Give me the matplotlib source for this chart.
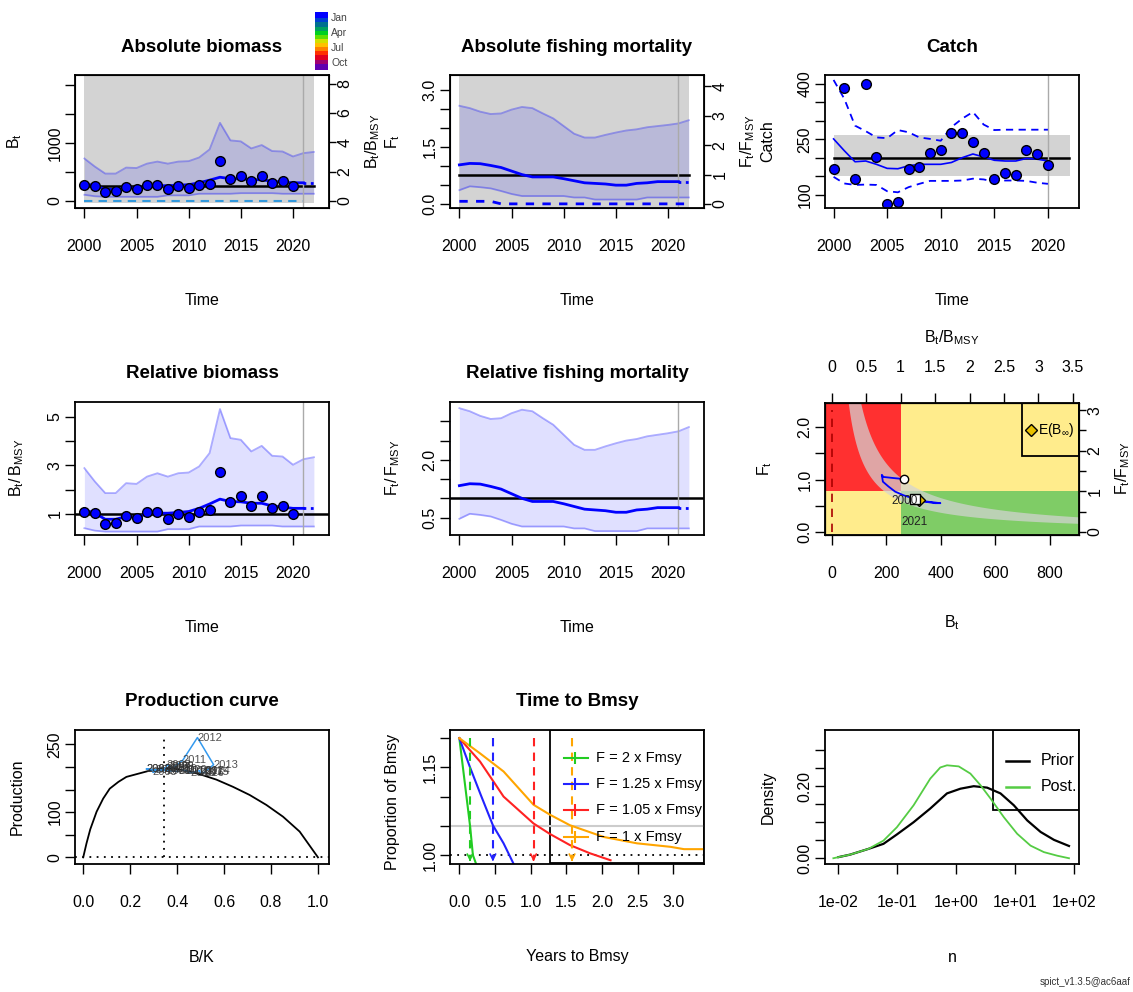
import matplotlib
matplotlib.use('Agg')
import matplotlib.pyplot as plt
import numpy as np
from matplotlib import font_manager
from matplotlib.patches import Rectangle
from matplotlib.colors import ListedColormap

names = {f.name for f in font_manager.fontManager.ttflist}
base = 'Liberation Sans Narrow' if 'Liberation Sans Narrow' in names else 'Liberation Sans'
plt.rcParams['font.family'] = [base, 'DejaVu Sans']
plt.rcParams['mathtext.fontset'] = 'custom'
plt.rcParams['mathtext.rm'] = base
plt.rcParams['mathtext.default'] = 'regular'

# ---------------- data ----------------
years_obs = list(range(2000, 2021))
years_est = list(range(2000, 2023))
index_rel = [1.10, 1.03, 0.59, 0.64, 0.92, 0.82, 1.10, 1.10, 0.79, 1.00, 0.89,
             1.06, 1.17, 2.71, 1.48, 1.72, 1.34, 1.72, 1.23, 1.34, 1.00]
b_rel_est = [1.17, 1.03, 0.78, 0.78, 0.89, 0.86, 1.00, 1.03, 1.03, 1.06, 1.10, 1.23,
             1.41, 1.61, 1.51, 1.50, 1.44, 1.44, 1.33, 1.28, 1.23, 1.23, 1.23]
b_rel_hi = [2.89, 2.34, 1.86, 1.86, 2.27, 2.24, 2.54, 2.68, 2.54, 2.68, 2.71, 2.96,
            3.51, 5.33, 4.13, 4.06, 3.58, 3.81, 3.40, 3.37, 3.03, 3.26, 3.34]
b_rel_lo = [0.41, 0.31, 0.27, 0.27, 0.27, 0.27, 0.27, 0.27, 0.37, 0.37, 0.37, 0.48,
            0.48, 0.48, 0.48, 0.52, 0.52, 0.52, 0.52, 0.48, 0.48, 0.48, 0.48]
f_rel_est = [1.33, 1.38, 1.37, 1.31, 1.24, 1.12, 1.00, 0.92, 0.92, 0.92, 0.86, 0.79,
             0.72, 0.70, 0.68, 0.64, 0.64, 0.70, 0.72, 0.76, 0.76, 0.76, 0.76]
f_rel_hi = [3.34, 3.26, 3.14, 3.06, 3.08, 3.21, 3.30, 3.26, 3.08, 2.91, 2.65, 2.39,
            2.26, 2.26, 2.35, 2.43, 2.50, 2.54, 2.61, 2.65, 2.69, 2.74, 2.85]
f_rel_lo = [0.47, 0.60, 0.57, 0.53, 0.44, 0.34, 0.27, 0.27, 0.27, 0.27, 0.27, 0.22,
            0.22, 0.15, 0.15, 0.15, 0.15, 0.15, 0.22, 0.22, 0.22, 0.22, 0.22]
f_season = [0.07, 0.07, 0.07, 0.07, 0.003, 0.003, 0.003, 0.003, 0.003, 0.003, 0.003, 0.003,
            0.003, 0.003, 0.003, 0.003, 0.003, 0.003, 0.003, 0.003, 0.003, 0.003, 0.003]
bmsy = 253.0
fmsy = 0.775

catch_obs = [170, 388, 143, 400, 203, 74, 80, 168, 175, 214, 222, 266, 267, 243,
             214, 143, 159, 153, 222, 211, 180]
catch_est = [251, 219, 189, 191, 182, 171, 170, 178, 182, 182, 182, 187, 200, 210,
             202, 193, 191, 191, 198, 196, 191]
catch_hi = [411, 360, 287, 272, 255, 253, 275, 269, 255, 251, 246, 283, 306, 324,
            290, 275, 276, 276, 276, 276, 276]
catch_lo = [148, 130, 126, 127, 126, 109, 106, 120, 129, 137, 137, 137, 138, 143,
            141, 135, 138, 138, 137, 132, 129]
msy, msy_lo, msy_hi = 198, 150, 262

kobe_b = [264, 225, 190, 184, 188, 208, 233, 264, 300, 350, 399, 380, 340, 307]
kobe_f = [1.01, 1.03, 1.05, 1.09, 0.96, 0.87, 0.77, 0.70, 0.64, 0.58, 0.55, 0.55, 0.58, 0.625]
binf_b, binf_f = 322, 0.61

prod_bk = [0.0, 0.014, 0.03, 0.057, 0.085, 0.113, 0.15, 0.184, 0.227, 0.27, 0.30, 0.345,
           0.39, 0.426, 0.496, 0.567, 0.638, 0.709, 0.78, 0.851, 0.922, 1.0]
prod_p = [0, 31, 62, 101, 130, 152, 167, 178, 184, 190, 194, 197, 196, 193, 184, 172,
          156, 138, 116, 90, 57, 0]
bmsy_k = 0.345
prod_traj = [190, 192, 195, 196, 193, 188, 196, 200, 205, 203, 196, 215, 265, 205, 190,
             188, 186, 192, 187, 190, 193]

t2_x = [0, 0.08, 0.15, 0.19, 0.234]
t2_y = [1.2, 1.12, 1.05, 1.0, 0.985]
t125_x = [0, 0.15, 0.3, 0.47, 0.62, 0.76]
t125_y = [1.2, 1.15, 1.103, 1.051, 1.02, 0.985]
t105_x = [0, 0.29, 0.62, 1.04, 1.27, 1.55, 1.83, 2.12]
t105_y = [1.2, 1.16, 1.10, 1.054, 1.036, 1.017, 1.003, 0.991]
t1_x = [0, 0.29, 0.62, 1.04, 1.27, 1.55, 2.02, 2.49, 2.96, 3.15, 3.43]
t1_y = [1.2, 1.174, 1.143, 1.086, 1.069, 1.051, 1.031, 1.02, 1.014, 1.01, 1.01]
t_years = [0.15, 0.47, 1.04, 1.58]
t_labels = ['F = 2 x Fmsy', 'F = 1.25 x Fmsy', 'F = 1.05 x Fmsy', 'F = 1 x Fmsy']
t_colors = ['#22cc22', '#2222ff', '#ff2222', '#ffa500']

prior_logn = [-2, -1.801, -1.489, -1.234, -1.007, -0.723, -0.440, -0.156, 0.071, 0.298,
              0.525, 0.752, 0.979, 1.206, 1.433, 1.660, 1.915]
prior_d = [0.003, 0.010, 0.026, 0.040, 0.066, 0.100, 0.138, 0.180, 0.193, 0.200, 0.196,
           0.180, 0.147, 0.105, 0.073, 0.051, 0.034]
post_logn = [-2.085, -1.801, -1.489, -1.234, -1.007, -0.723, -0.440, -0.270, -0.156, 0.043,
             0.241, 0.411, 0.582, 0.809, 1.035, 1.262, 1.489, 1.716, 1.915]
post_d = [0.0, 0.010, 0.026, 0.049, 0.086, 0.147, 0.221, 0.252, 0.258, 0.255, 0.235, 0.203,
          0.166, 0.114, 0.068, 0.035, 0.017, 0.007, 0.0]

season_colors = ['#0000ff', '#0040d0', '#007090', '#00a060', '#00d020', '#60e000', '#d0e000',
                 '#ffc000', '#ff8000', '#ff3000', '#e00020', '#a00070', '#6000b0']
season_labels = ['Jan', 'Apr', 'Jul', 'Oct']

# ---------------- layout ----------------
W, H = 1133, 992
fig = plt.figure(figsize=(W / 100, H / 100), dpi=100)
FS = 11.5
TFS = 13.5
CI_FILL = dict(color=(0, 0, 1), alpha=0.12, lw=0)
CI_LINE = dict(color=(0, 0, 1), alpha=0.32, lw=1.3)
GREY = '#d3d3d3'


def add_ax(xp, yp, wp=254, hp=133):
    return fig.add_axes([xp / W, 1 - (yp + hp) / H, wp / W, hp / H])


def ftext(xp, yp, s, **kw):
    kw.setdefault('fontsize', FS)
    fig.text(xp / W, 1 - yp / H, s, ha='center', va='center', **kw)


def style(ax, yticks, ylabels, xticks=None, xlabels=None):
    if xticks is not None:
        ax.set_xticks(xticks)
        ax.set_xticklabels(xlabels if xlabels is not None else [str(t) for t in xticks])
    ax.set_yticks(yticks)
    ax.set_yticklabels(ylabels, rotation=90, va='center')
    ax.tick_params(axis='both', direction='out', length=7, width=1, labelsize=FS)
    ax.tick_params(axis='x', pad=15)
    ax.tick_params(axis='y', pad=2)
    ax.minorticks_off()
    for s in ax.spines.values():
        s.set_linewidth(1.3)


def right_axis(ax, lo, hi, ticks, labels):
    a2 = ax.twinx()
    a2.set_ylim(lo, hi)
    a2.set_yticks(ticks)
    a2.set_yticklabels(labels, rotation=90, va='center')
    a2.tick_params(axis='y', direction='out', length=5, width=1, labelsize=FS, pad=1)
    a2.minorticks_off()
    return a2


cx = [75, 450, 825]
ry = [75, 402, 730]
tx = [2000, 2005, 2010, 2015, 2020]
yr = np.array(years_est)
yo = np.array(years_obs)
xl_time = (1999.1, 2023.45)

# ---- 1 Absolute biomass
ax = add_ax(cx[0], ry[0])
ax.fill_between([2000, 2022.05], -40, 5000, color=GREY, lw=0)
b_abs_lo = np.array(b_rel_lo) * bmsy
b_abs_hi = np.array(b_rel_hi) * bmsy
ax.fill_between(yr, b_abs_lo, b_abs_hi, **CI_FILL)
ax.plot(yr, b_abs_lo, **CI_LINE)
ax.plot(yr, b_abs_hi, **CI_LINE)
ax.plot([2000, 2022], [bmsy, bmsy], color='black', lw=1.8)
ax.plot([2000, 2021], [0, 0], color='#3399dd', lw=1.5, ls=(0, (4, 3)))
ax.axvline(2021, color='#aaaaaa', lw=1)
ax.plot(yr[:22], np.array(b_rel_est[:22]) * bmsy, color='blue', lw=2)
ax.plot(yr[21:], np.array(b_rel_est[21:]) * bmsy, color='blue', lw=2, ls=':')
ax.plot(yo, np.array(index_rel) * bmsy, 'o', ms=7, mfc='blue', mec='black', mew=1)
ax.set_xlim(*xl_time)
ax.set_ylim(-125, 2176)
style(ax, [0, 500, 1000, 1500, 2000], ['0', '', '1000', '', ''], tx)
right_axis(ax, -125 / bmsy, 2176 / bmsy, [0, 2, 4, 6, 8], ['0', '2', '4', '6', '8'])

ftext(202, 47, 'Absolute biomass', fontsize=TFS, fontweight='bold')
ftext(202, 300, 'Time')
ftext(15, 141, r'$B_t$', rotation=90)
ftext(373, 141, r'$B_t/B_{MSY}$', rotation=90)

# season colour bar
cax = fig.add_axes([315 / W, 1 - 70 / H, 13 / W, 58 / H])
cax.imshow(np.arange(len(season_colors)).reshape(-1, 1), aspect='auto',
           cmap=ListedColormap(season_colors), interpolation='bilinear')
cax.axis('off')
for i, lab in enumerate(season_labels):
    fig.text(331 / W, 1 - (18 + 15 * i) / H, lab, fontsize=7.5, color='#444444', va='center')

# ---- 2 Absolute fishing mortality
ax = add_ax(cx[1], ry[0])
ax.fill_between([2000, 2022.05], -1, 10, color=GREY, lw=0)
f_abs_lo = np.array(f_rel_lo) * fmsy
f_abs_hi = np.array(f_rel_hi) * fmsy
ax.fill_between(yr, f_abs_lo, f_abs_hi, **CI_FILL)
ax.plot(yr, f_abs_lo, **CI_LINE)
ax.plot(yr, f_abs_hi, **CI_LINE)
ax.plot([2000, 2022], [fmsy, fmsy], color='black', lw=1.8)
ax.axvline(2021, color='#aaaaaa', lw=1)
ax.plot(yr, f_season, color='blue', lw=2, ls=(0, (3, 3)))
ax.plot(yr[:22], np.array(f_rel_est[:22]) * fmsy, color='blue', lw=2)
ax.plot(yr[21:], np.array(f_rel_est[21:]) * fmsy, color='blue', lw=2, ls=':')
ax.set_xlim(*xl_time)
ax.set_ylim(-0.106, 3.40)
style(ax, [0, 0.5, 1.0, 1.5, 2.0, 2.5, 3.0], ['0.0', '', '', '1.5', '', '', '3.0'], tx)
right_axis(ax, -0.106 / fmsy, 3.40 / fmsy, [0, 1, 2, 3, 4], ['0', '1', '2', '3', '4'])
ftext(577, 47, 'Absolute fishing mortality', fontsize=TFS, fontweight='bold')
ftext(577, 300, 'Time')
ftext(393, 141, r'$F_t$', rotation=90)
ftext(748, 141, r'$F_t/F_{MSY}$', rotation=90)

# ---- 3 Catch
ax = add_ax(cx[2], ry[0])
ax.fill_between([2000, 2022.05], msy_lo, msy_hi, color=GREY, lw=0)
ax.plot([2000, 2022], [msy, msy], color='black', lw=1.8)
ax.axvline(2020, color='#aaaaaa', lw=1)
ax.plot(yo, catch_est, color='blue', lw=1.2)
ax.plot(yo, catch_hi, color='blue', lw=1.3, ls=(0, (4, 3)))
ax.plot(yo, catch_lo, color='blue', lw=1.3, ls=(0, (4, 3)))
ax.plot(yo, catch_obs, 'o', ms=7, mfc='blue', mec='black', mew=1)
ax.set_xlim(1999.2, 2022.9)
ax.set_ylim(63.4, 424.5)
style(ax, [100, 150, 200, 250, 300, 350, 400], ['100', '', '', '250', '', '', '400'], tx)
ftext(952, 47, 'Catch', fontsize=TFS, fontweight='bold')
ftext(952, 300, 'Time')
ftext(768, 141, 'Catch', rotation=90)

# ---- 4 Relative biomass
ax = add_ax(cx[0], ry[1])
ax.fill_between(yr, b_rel_lo, b_rel_hi, **CI_FILL)
ax.plot(yr, b_rel_lo, **CI_LINE)
ax.plot(yr, b_rel_hi, **CI_LINE)
ax.axhline(1, color='black', lw=1.8)
ax.axvline(2021, color='#aaaaaa', lw=1)
ax.plot(yr[:22], b_rel_est[:22], color='blue', lw=2)
ax.plot(yr[21:], b_rel_est[21:], color='blue', lw=2, ls=':')
ax.plot(yo, index_rel, 'o', ms=7, mfc='blue', mec='black', mew=1)
ax.set_xlim(*xl_time)
ax.set_ylim(0.13, 5.62)
style(ax, [1, 2, 3, 4, 5], ['1', '', '3', '', '5'], tx)
ftext(202, 373, 'Relative biomass', fontsize=TFS, fontweight='bold')
ftext(202, 628, 'Time')
ftext(17, 468, r'$B_t/\,B_{MSY}$', rotation=90)

# ---- 5 Relative fishing mortality
ax = add_ax(cx[1], ry[1])
ax.fill_between(yr, f_rel_lo, f_rel_hi, **CI_FILL)
ax.plot(yr, f_rel_lo, **CI_LINE)
ax.plot(yr, f_rel_hi, **CI_LINE)
ax.axhline(1, color='black', lw=1.8)
ax.axvline(2021, color='#aaaaaa', lw=1)
ax.plot(yr[:22], f_rel_est[:22], color='blue', lw=2)
ax.plot(yr[21:], f_rel_est[21:], color='blue', lw=2, ls=':')
ax.set_xlim(*xl_time)
ax.set_ylim(0.05, 3.50)
style(ax, [0.5, 1.0, 1.5, 2.0, 2.5, 3.0], ['0.5', '', '', '2.0', '', ''], tx)
ftext(577, 373, 'Relative fishing mortality', fontsize=TFS, fontweight='bold')
ftext(577, 628, 'Time')
ftext(393, 468, r'$F_t/\,F_{MSY}$', rotation=90)

# ---- 6 Kobe plot
ax = add_ax(cx[2], ry[1] + 1, hp=132)
xlo, xhi, ylo, yhi = -24.5, 908, -0.057, 2.46
ax.add_patch(Rectangle((xlo, fmsy), bmsy - xlo, 5, color='#ff3030', lw=0))
ax.add_patch(Rectangle((bmsy, fmsy), 2000, 5, color='#ffec8c', lw=0))
ax.add_patch(Rectangle((xlo, ylo), bmsy - xlo, fmsy - ylo, color='#ffec8c', lw=0))
ax.add_patch(Rectangle((bmsy, ylo), 2000, fmsy - ylo, color='#7fcc66', lw=0))
bgrid = np.linspace(40, 950, 300)
ax.fill_between(bgrid, msy_lo / bgrid, msy_hi / bgrid, color=GREY, alpha=0.72, lw=0)
ax.plot([0, 0], [0, 2.33], color='#aa0000', lw=1.2, ls=(0, (5, 4)))
ax.plot(kobe_b, kobe_f, color='blue', lw=1.3)
ax.plot(kobe_b[0], kobe_f[0], 'o', ms=6, mfc='white', mec='black', mew=1)
ax.plot(binf_b, binf_f, 'D', ms=6, mfc='#e8c000', mec='black', mew=1)
ax.plot(kobe_b[-1], kobe_f[-1], 's', ms=6.5, mfc='white', mec='black', mew=1)
ax.text(268, 0.60, '2000', fontsize=8.5, ha='center', va='center', color='#222222')
ax.text(303, 0.20, '2021', fontsize=8.5, ha='center', va='center', color='#222222')
ax.add_patch(Rectangle((0.775, 0.6), 0.225, 0.4, transform=ax.transAxes,
                       fill=False, ec='black', lw=1.3))
ax.plot(0.81, 0.795, 'D', ms=6, mfc='#e8c000', mec='black', mew=1, transform=ax.transAxes)
ax.text(0.84, 0.795, r'E(B$_\infty$)', transform=ax.transAxes, fontsize=10, va='center')
ax.set_xlim(xlo, xhi)
ax.set_ylim(ylo, yhi)
style(ax, [0, 0.5, 1.0, 1.5, 2.0], ['0.0', '', '1.0', '', '2.0'],
      [0, 200, 400, 600, 800], ['0', '200', '400', '600', '800'])
right_axis(ax, ylo / fmsy, yhi / fmsy, [0, 0.5, 1, 1.5, 2, 2.5, 3],
           ['0', '', '1', '', '2', '', '3'])
top = ax.twiny()
top.set_xlim(xlo / bmsy, xhi / bmsy)
top.set_xticks([0, 0.5, 1, 1.5, 2, 2.5, 3, 3.5])
top.set_xticklabels(['0', '0.5', '1', '1.5', '2', '2.5', '3', '3.5'])
top.tick_params(axis='x', direction='out', length=7, width=1, labelsize=FS, pad=13)
top.minorticks_off()
ftext(952, 338, r'$B_t/B_{MSY}$')
ftext(952, 623, r'$B_t$')
ftext(765, 468, r'$F_t$', rotation=90)
ftext(1123, 468, r'$F_t/F_{MSY}$', rotation=90)

# ---- 7 Production curve
ax = add_ax(cx[0], ry[2], hp=134)
ax.plot(prod_bk, prod_p, color='black', lw=1.3)
ax.axhline(0, color='black', lw=1.3, ls=(0, (1, 3)))
ax.plot([bmsy_k, bmsy_k], [0, 267], color='black', lw=1.3, ls=(0, (1, 3)))
traj_bk = np.array(b_rel_est[:21]) * bmsy_k
ax.plot(traj_bk, prod_traj, color='#3399ee', lw=1.1)
for i, y in enumerate(years_obs):
    ax.text(traj_bk[i], prod_traj[i], str(y), fontsize=8, color='#333333',
            ha='left', va='center', alpha=0.85)
ax.set_xlim(-0.035, 1.047)
ax.set_ylim(-14.7, 281.7)
style(ax, [0, 50, 100, 150, 200, 250], ['0', '', '100', '', '', '250'],
      [0, 0.2, 0.4, 0.6, 0.8, 1.0], ['0.0', '0.2', '0.4', '0.6', '0.8', '1.0'])
ftext(202, 702, 'Production curve', fontsize=TFS, fontweight='bold')
ftext(202, 957, 'B/K')
ftext(17, 797, 'Production', rotation=90)

# ---- 8 Time to Bmsy
ax = add_ax(cx[1], ry[2], hp=134)
ax.axhline(1.05, color='#cccccc', lw=1.5)
ax.axhline(1.0, color='black', lw=1.3, ls=(0, (1, 3)))
for xs, ys, c in zip([t2_x, t125_x, t105_x, t1_x], [t2_y, t125_y, t105_y, t1_y], t_colors):
    ax.plot(xs, ys, color=c, lw=1.5)
for xv, c in zip(t_years, t_colors):
    ax.plot([xv, xv], [1.2, 0.994], color=c, lw=1.5, ls=(0, (4, 3)))
    ax.annotate('', xy=(xv, 0.989), xytext=(xv, 0.997),
                arrowprops=dict(arrowstyle='->', color=c, lw=1.2))
ax.add_patch(Rectangle((0.395, 0.01), 0.605, 0.99, transform=ax.transAxes,
                       fill=False, ec='black', lw=1.3))
for i, (lab, c) in enumerate(zip(t_labels, t_colors)):
    yy = [0.79, 0.60, 0.40, 0.20][i]
    ax.plot([0.447, 0.542], [yy, yy], color=c, lw=1.5, transform=ax.transAxes)
    ax.plot(0.494, yy, '|', ms=9, color=c, mew=1.5, transform=ax.transAxes)
    ax.text(0.575, yy, lab, transform=ax.transAxes, fontsize=10.5, va='center')
ax.set_xlim(-0.131, 3.43)
ax.set_ylim(0.9846, 1.214)
style(ax, [1.0, 1.05, 1.10, 1.15, 1.20], ['1.00', '', '', '1.15', ''],
      [0, 0.5, 1.0, 1.5, 2.0, 2.5, 3.0], ['0.0', '0.5', '1.0', '1.5', '2.0', '2.5', '3.0'])
ftext(577, 702, 'Time to Bmsy', fontsize=TFS, fontweight='bold')
ftext(577, 957, 'Years to Bmsy')
ftext(393, 802, 'Proportion of Bmsy', rotation=90)

# ---- 9 prior / posterior of n
ax = add_ax(cx[2], ry[2], hp=134)
ax.set_xscale('log')
ax.plot(10 ** np.array(prior_logn), prior_d, color='black', lw=1.6)
ax.plot(10 ** np.array(post_logn), post_d, color='#55cc44', lw=1.3)
ax.add_patch(Rectangle((0.66, 0.40), 0.34, 0.60, transform=ax.transAxes,
                       fill=False, ec='black', lw=1.3))
for yy, lab, c in [(0.77, 'Prior', 'black'), (0.575, 'Post.', '#55cc44')]:
    ax.plot([0.711, 0.802], [yy, yy], color=c, lw=1.8, transform=ax.transAxes)
    ax.text(0.85, yy, lab, transform=ax.transAxes, fontsize=FS, va='center')
ax.set_xlim(10 ** -2.227, 10 ** 2.085)
ax.set_ylim(-0.016, 0.356)
style(ax, [0, 0.05, 0.10, 0.15, 0.20, 0.25, 0.30], ['0.00', '', '', '', '0.20', '', ''],
      [1e-2, 1e-1, 1e0, 1e1, 1e2], ['1e-02', '1e-01', '1e+00', '1e+01', '1e+02'])
ftext(952, 958, 'n')
ftext(768, 797, 'Density', rotation=90)

ftext(1085, 982, 'spict_v1.3.5@ac6aaf', fontsize=7, color='#333333')

plt.savefig('out.png', dpi=100, facecolor='white')
